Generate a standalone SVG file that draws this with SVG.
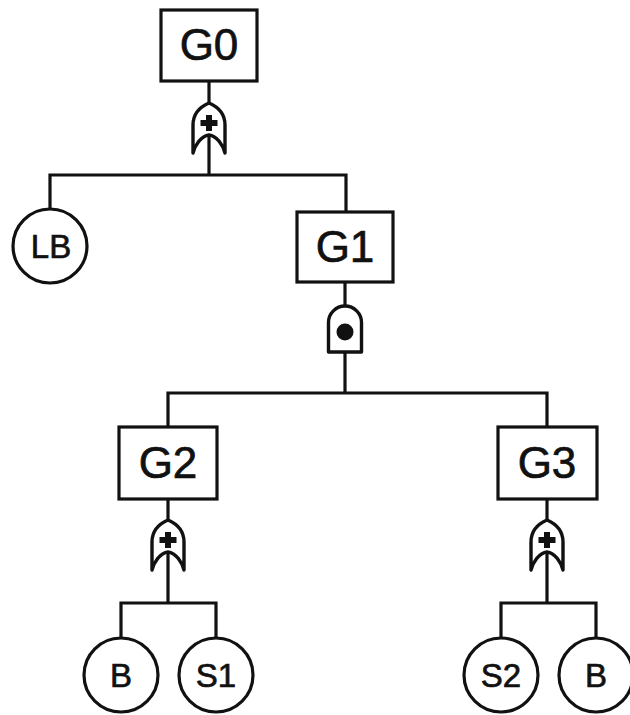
<svg xmlns="http://www.w3.org/2000/svg" width="630" height="715" viewBox="0 0 630 715">
  <style>
    .ln { fill: none; stroke: #111; stroke-width: 3.2; stroke-linecap: square; }
    .box { fill: #fff; stroke: #111; stroke-width: 3.2; }
    .evt { fill: #fff; stroke: #111; stroke-width: 3.2; }
    .gate { fill: #fff; stroke: #111; stroke-width: 3.4; stroke-linejoin: round; }
    .mark { fill: #111; }
    .gl { font-family: "Liberation Sans", Arial, sans-serif; font-size: 44px; fill: #111; stroke: #111; stroke-width: 0.7; text-anchor: middle; }
    .el { font-family: "Liberation Sans", Arial, sans-serif; font-size: 33px; fill: #111; stroke: #111; stroke-width: 0.7; text-anchor: middle; }
  </style>
  <defs>
    <!-- OR gate, apex at origin -->
    <g id="or-gate">
      <path class="gate" d="M -16,50 L -16,22 C -16,9 -7,3 0,0 C 7,3 16,9 16,22 L 16,50 C 14,42 8,33 0,32 C -8,33 -14,42 -16,50 Z"/>
      <path class="mark" d="M -3,12 h 6 v 5 h 5.5 v 6 h -5.5 v 5 h -6 v -5 h -5.5 v -6 h 5.5 Z"/>
    </g>
    <!-- AND gate, apex at origin -->
    <g id="and-gate">
      <path class="gate" d="M -16.5,46 L -16.5,16.5 A 16.5 16.5 0 0 1 16.5,16.5 L 16.5,46 Z"/>
      <circle class="mark" cx="0" cy="26" r="8.5"/>
    </g>
  </defs>

  <g id="connectors">
    <path class="ln" d="M 209,81 V 104"/>
    <path class="ln" d="M 209,136 V 175 M 50,210 V 175 H 346 V 212"/>
    <path class="ln" d="M 345,282 V 306"/>
    <path class="ln" d="M 345,352 V 393 M 168,427 V 393 H 547 V 427"/>
    <path class="ln" d="M 168,499 V 521"/>
    <path class="ln" d="M 168,553 V 603 M 121,639 V 603 H 216 V 639"/>
    <path class="ln" d="M 547,499 V 521"/>
    <path class="ln" d="M 547,553 V 603 M 501,639 V 603 H 596 V 639"/>
  </g>

  <g id="G0">
    <rect class="box" x="161" y="10" width="96" height="71"/>
    <text class="gl" x="209" y="60">G0</text>
  </g>
  <g id="G0-or"><use href="#or-gate" x="209" y="103"/></g>

  <g id="LB">
    <circle class="evt" cx="50" cy="246" r="37"/>
    <text class="el" x="51" y="258">LB</text>
  </g>

  <g id="G1">
    <rect class="box" x="297" y="212" width="96" height="70"/>
    <text class="gl" x="345" y="262">G1</text>
  </g>
  <g id="G1-and"><use href="#and-gate" x="345" y="306"/></g>

  <g id="G2">
    <rect class="box" x="119" y="427" width="98" height="72"/>
    <text class="gl" x="168" y="478">G2</text>
  </g>
  <g id="G2-or"><use href="#or-gate" x="168" y="520"/></g>

  <g id="G3">
    <rect class="box" x="498" y="427" width="99" height="72"/>
    <text class="gl" x="547" y="478">G3</text>
  </g>
  <g id="G3-or"><use href="#or-gate" x="547" y="520"/></g>

  <g id="B-left">
    <circle class="evt" cx="121" cy="675" r="37"/>
    <text class="el" x="121" y="687">B</text>
  </g>
  <g id="S1">
    <circle class="evt" cx="216" cy="675" r="37"/>
    <text class="el" x="216" y="687">S1</text>
  </g>
  <g id="S2">
    <circle class="evt" cx="501" cy="675" r="37"/>
    <text class="el" x="501" y="687">S2</text>
  </g>
  <g id="B-right">
    <circle class="evt" cx="596" cy="675" r="37"/>
    <text class="el" x="596" y="687">B</text>
  </g>
</svg>
